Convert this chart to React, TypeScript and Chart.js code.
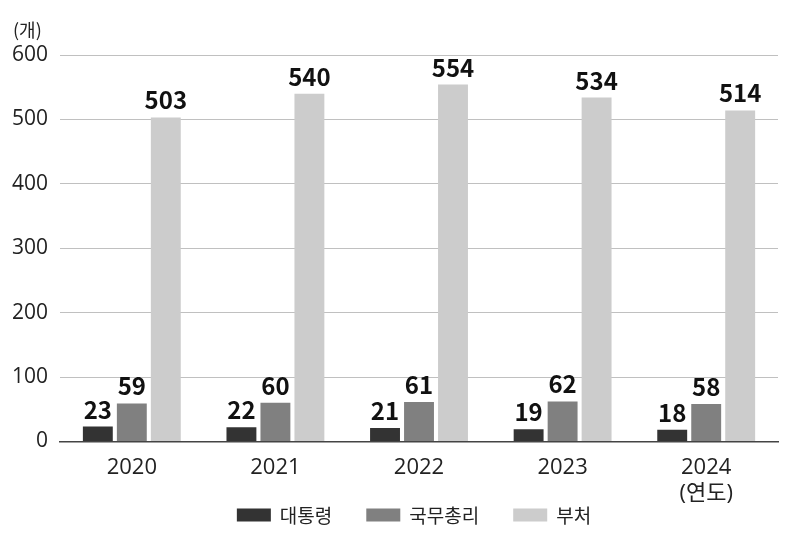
import React, { useEffect, useRef } from "react";
import { Chart, registerables } from "chart.js";

Chart.register(...registerables);

const categories = ["2020", "2021", "2022", "2023", "2024"];
const president = [23, 22, 21, 19, 18];
const primeMinister = [59, 60, 61, 62, 58];
const ministries = [503, 540, 554, 534, 514];
const seriesNames = ["대통령", "국무총리", "부처"];
const seriesColors = ["#333333", "#808080", "#cccccc"];
const yTicks = [0, 100, 200, 300, 400, 500, 600];
const unitLabel = "(개)";
const xUnitLabel = "(연도)";

const FONT = "'Open Sans', 'Noto Sans CJK KR', sans-serif";
const KFONT = "'Noto Sans CJK KR', 'Noto Sans', sans-serif";

const labelPlugin = {
  id: "valueLabels",
  afterDatasetsDraw(chart: any) {
    const ctx = chart.ctx;
    ctx.save();
    ctx.font = `bold 24px ${KFONT}`;
    ctx.fillStyle = "#111";
    ctx.textAlign = "center";
    ctx.textBaseline = "alphabetic";
    chart.data.datasets.forEach((ds: any, i: number) => {
      const meta = chart.getDatasetMeta(i);
      meta.data.forEach((bar: any, j: number) => {
        ctx.fillText(String(ds.data[j]), bar.x, bar.y - 8);
      });
    });
    // unit label
    ctx.font = `18px ${KFONT}`;
    ctx.fillStyle = "#222";
    ctx.textAlign = "left";
    ctx.textBaseline = "middle";
    ctx.fillText(unitLabel, 13, chart.chartArea.top - 25);

    // custom legend
    ctx.font = `19px ${KFONT}`;
    const boxW = 34, boxH = 13, boxGap = 9, itemGap = 34;
    const widths = seriesNames.map((n) => boxW + boxGap + ctx.measureText(n).width);
    const total = widths.reduce((a, b) => a + b, 0) + itemGap * (widths.length - 1);
    let x = (chart.chartArea.left + chart.chartArea.right) / 2 - 5 - total / 2;
    const cy = 515;
    seriesNames.forEach((n, i) => {
      ctx.fillStyle = seriesColors[i];
      ctx.fillRect(x, cy - boxH / 2, boxW, boxH);
      ctx.fillStyle = "#222";
      ctx.textBaseline = "middle";
      ctx.fillText(n, x + boxW + boxGap, cy + 1);
      x += widths[i] + itemGap;
    });
    ctx.restore();
  },
};

export default function App() {
  const ref = useRef<HTMLCanvasElement | null>(null);
  useEffect(() => {
    document.body.style.margin = "0";
    const chart = new Chart(ref.current!, {
      type: "bar",
      data: {
        labels: categories.map((c, i) => (i === categories.length - 1 ? [c, xUnitLabel] : c)),
        datasets: seriesNames.map((n, i) => ({
          label: n,
          data: [president, primeMinister, ministries][i],
          backgroundColor: seriesColors[i],
        })),
      },
      options: {
        animation: false,
        responsive: false,
        maintainAspectRatio: false,
        layout: { padding: { top: 55, right: 22, left: 0, bottom: 28 } },
        datasets: { bar: { categoryPercentage: 0.71, barPercentage: 0.88 } },
        scales: {
          x: {
            grid: { display: false, drawTicks: false },
            border: { color: "#444", width: 1.5 },
            ticks: { color: "#222", font: { family: FONT, size: 22, lineHeight: 1.15 }, padding: 14 },
          },
          y: {
            min: 0,
            max: 600,
            afterBuildTicks: (axis: any) => {
              axis.ticks = yTicks.map((v) => ({ value: v }));
            },
            grid: { color: "#c0c0c0", drawTicks: false },
            border: { display: false },
            ticks: { color: "#222", font: { family: FONT, size: 21 }, padding: 12 },
          },
        },
        plugins: {
          legend: { display: false },
          tooltip: { enabled: false },
        },
      },
      plugins: [labelPlugin],
    });
    return () => chart.destroy();
  }, []);
  return (
    <div style={{ position: "absolute", left: 0, top: 0, width: 800, height: 548 }}>
      <canvas ref={ref} width={800} height={548} />
    </div>
  );
}
